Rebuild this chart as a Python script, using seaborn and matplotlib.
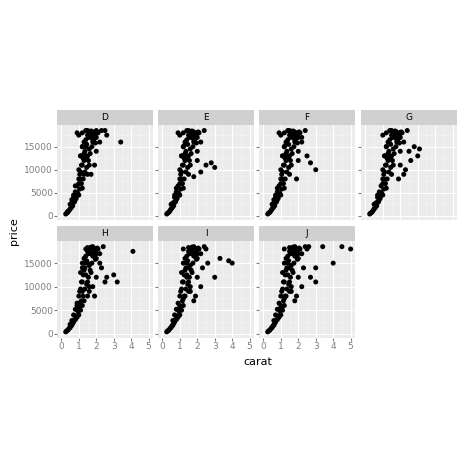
import matplotlib
matplotlib.use("Agg")
import matplotlib.pyplot as plt
import seaborn as sns
import pandas as pd

colors = ["D", "E", "F", "G", "H", "I", "J"]
carat = {
 "D": [0.25,0.3,0.35,0.4,0.5,0.5,0.6,0.7,0.7,0.8,0.9,1.0,1.0,1.0,1.1,1.2,1.2,1.3,1.5,1.5,1.5,1.6,1.7,1.8,2.0,2.0,2.0,2.1,2.2,2.3,1.1,1.0,1.2,1.4,0.9,2.5,2.6,3.4,1.7,1.9,0.8,0.6,1.3,1.4],
 "E": [0.25,0.3,0.4,0.5,0.5,0.6,0.7,0.7,0.8,0.9,1.0,1.0,1.0,1.1,1.2,1.2,1.3,1.5,1.5,1.5,1.6,1.7,1.8,2.0,2.0,2.1,2.2,2.4,1.1,1.0,1.2,1.4,0.9,2.5,2.8,3.0,2.2,1.8,0.8,1.3,2.0],
 "F": [0.25,0.3,0.4,0.5,0.5,0.6,0.7,0.7,0.8,0.9,1.0,1.0,1.0,1.1,1.2,1.2,1.3,1.5,1.5,1.5,1.6,1.7,1.8,2.0,2.0,2.1,2.2,2.4,1.1,1.0,1.2,1.4,0.9,2.5,2.7,3.0,2.2,1.9,0.8,1.3,2.0,0.6],
 "G": [0.25,0.3,0.4,0.5,0.5,0.6,0.7,0.7,0.8,0.9,1.0,1.0,1.0,1.1,1.2,1.2,1.3,1.5,1.5,1.5,1.6,1.7,1.8,2.0,2.0,2.1,2.2,2.4,1.1,1.0,1.2,1.4,2.5,2.6,2.8,3.0,3.1,2.3,1.9,2.0,2.2],
 "H": [0.25,0.3,0.4,0.5,0.5,0.6,0.7,0.8,0.9,1.0,1.0,1.1,1.2,1.2,1.3,1.5,1.5,1.5,1.6,1.7,1.8,2.0,2.0,2.1,2.2,2.4,1.2,1.4,1.3,2.5,2.6,3.0,3.2,4.1,2.3,1.9,1.6,1.0,0.9,1.8,2.2,2.0],
 "I": [0.25,0.3,0.4,0.5,0.6,0.7,0.8,0.9,1.0,1.0,1.1,1.2,1.2,1.3,1.5,1.5,1.5,1.6,1.7,1.8,2.0,2.0,2.1,2.2,2.4,1.2,1.4,2.5,2.6,3.0,3.3,3.8,4.0,2.3,1.9,1.6,1.0,1.8,2.2,2.0,1.4],
 "J": [0.25,0.3,0.4,0.5,0.6,0.7,0.8,0.9,1.0,1.0,1.1,1.2,1.2,1.3,1.5,1.5,1.5,1.6,1.7,1.8,2.0,2.0,2.1,2.2,2.4,1.2,1.4,2.5,2.6,3.0,3.4,4.0,4.5,5.0,2.3,1.9,1.6,1.0,1.8,2.2,2.0,2.7,3.0],
}
price = {
 "D": [400,600,900,1000,1500,2500,2000,3000,4500,3500,5000,4500,7000,10000,8000,6000,15000,12000,9000,13000,18500,11000,18000,16000,14000,17000,18500,18000,16000,18500,13000,17500,18000,18500,18000,18500,17500,16000,9000,11000,6500,3500,9000,15000],
 "E": [400,600,900,1500,2500,2000,3000,4500,3500,5000,4500,7000,10000,8000,6000,15000,12000,9000,13000,18500,11000,18000,16000,14000,17000,18000,16000,18500,13000,17500,18000,18500,18000,11000,11500,10500,9500,8500,6000,15500,12000],
 "F": [400,600,900,1500,2500,2000,3000,4500,3500,5000,4500,7000,10000,8000,6000,15000,12000,9000,13000,18500,11000,18000,16000,14000,17000,18000,16000,18500,13000,17500,18000,18500,18000,13000,11500,10000,17000,8000,6000,15500,12000,3500],
 "G": [400,600,900,1500,2500,2000,3000,4500,3500,5000,4500,7000,10000,8000,6000,15000,12000,9000,13000,18500,11000,18000,16000,14000,17000,18000,16000,18500,13000,17500,18000,18500,14000,12000,15000,13000,14500,10000,8000,11000,9000],
 "H": [400,600,900,1300,2000,1800,2500,3000,3500,4000,5500,5000,6000,9000,7000,8000,11000,15000,10000,13000,18500,12000,16000,18000,17000,18500,14000,18000,15000,11000,12000,12500,11000,17500,14000,8000,9000,6500,6000,10000,15000,17000],
 "I": [400,600,900,1300,1800,2500,3000,3500,4000,5500,5000,6000,7500,8000,11000,9000,14000,10000,13000,18500,12000,16000,18000,17000,18500,18000,15000,18000,15000,12000,16000,15500,15000,14000,8000,9000,6000,7000,10000,17000,12000],
 "J": [400,600,900,1300,1800,2500,3000,3500,4000,5500,5000,6000,7500,8000,11000,9000,14000,10000,13000,18500,12000,16000,18000,17000,18500,18000,15000,18000,18500,14000,18500,15000,18500,18000,14000,8000,9000,6000,7000,10000,17000,12000,11000],
}
# additional observations in the dense core of each panel
core_carat = [0.35,0.45,0.55,0.65,0.75,0.85,0.95,1.05,1.15,1.25,1.35,1.45,1.55,1.65,1.75,1.85,1.95,2.05,
              1.05,1.15,1.25,1.35,1.45,1.55,1.65,1.75,1.85,1.95,1.1,1.3,1.5,1.7,1.9,1.2,1.4,1.6,1.8,2.0,
              0.9,1.0,1.1,1.2,1.3,1.4,1.5,1.6,1.7,0.6,0.7,0.8]
core_price = [700,1200,1700,2200,3000,3800,4800,5800,7000,8000,9500,10500,12000,13500,15000,16500,17500,18200,
              9000,11000,12500,14000,15500,17000,17800,18300,17200,15800,13000,16000,17500,18400,18000,15000,12500,14500,16500,18000,
              6500,8000,9500,11000,13500,16500,18300,18000,17000,2800,4000,5200]

fig = plt.figure(figsize=(4.74, 4.74), dpi=100)
W = H = 474
cols_x = [57, 158, 259, 361]
pw = 96
rows = [(125, 220), (241, 338)]
strip_h = 15
for i, c in enumerate(colors):
    r, col = divmod(i, 4)
    x0 = cols_x[col]
    yt, yb = rows[r]
    ax = fig.add_axes([x0 / W, 1 - yb / H, pw / W, (yb - yt) / H])
    ax.set_facecolor("#EBEBEB")
    df = pd.DataFrame({"carat": carat[c] + core_carat, "price": price[c] + core_price})
    sns.scatterplot(data=df, x="carat", y="price", ax=ax, color="black", s=13, edgecolor="none", legend=False)
    ax.set_xlim(-0.25, 5.25)
    ax.set_ylim(-900, 19700)
    ax.set_xticks([0, 1, 2, 3, 4, 5])
    ax.set_yticks([0, 5000, 10000, 15000])
    ax.set_xticks([0.5, 1.5, 2.5, 3.5, 4.5], minor=True)
    ax.set_yticks([2500, 7500, 12500, 17500], minor=True)
    ax.grid(True, which="major", color="white", lw=0.8)
    ax.grid(True, which="minor", color="#F5F5F5", lw=0.4)
    ax.set_axisbelow(True)
    for s in ax.spines.values():
        s.set_visible(False)
    ax.tick_params(which="both", length=2, color="#7F7F7F", labelsize=6.5, labelcolor="#7F7F7F", pad=1)
    ax.tick_params(which="minor", length=0)
    ax.set_xlabel("")
    ax.set_ylabel("")
    if col != 0:
        ax.set_yticklabels([])
    if r == 0:
        ax.set_xticklabels([])
        ax.tick_params(axis="x", length=0)
    sax = fig.add_axes([x0 / W, 1 - (yt) / H, pw / W, strip_h / H])
    sax.set_facecolor("#D0D0D0")
    sax.set_xticks([]); sax.set_yticks([])
    for s in sax.spines.values():
        s.set_visible(False)
    sax.text(0.5, 0.5, c, ha="center", va="center", fontsize=6.5, transform=sax.transAxes)

fig.text(258 / W, 1 - 362 / H, "carat", ha="center", va="center", fontsize=8)
fig.text(14 / W, 1 - 231 / H, "price", ha="center", va="center", rotation=90, fontsize=8)
fig.savefig("out.png", dpi=100, facecolor="white")
